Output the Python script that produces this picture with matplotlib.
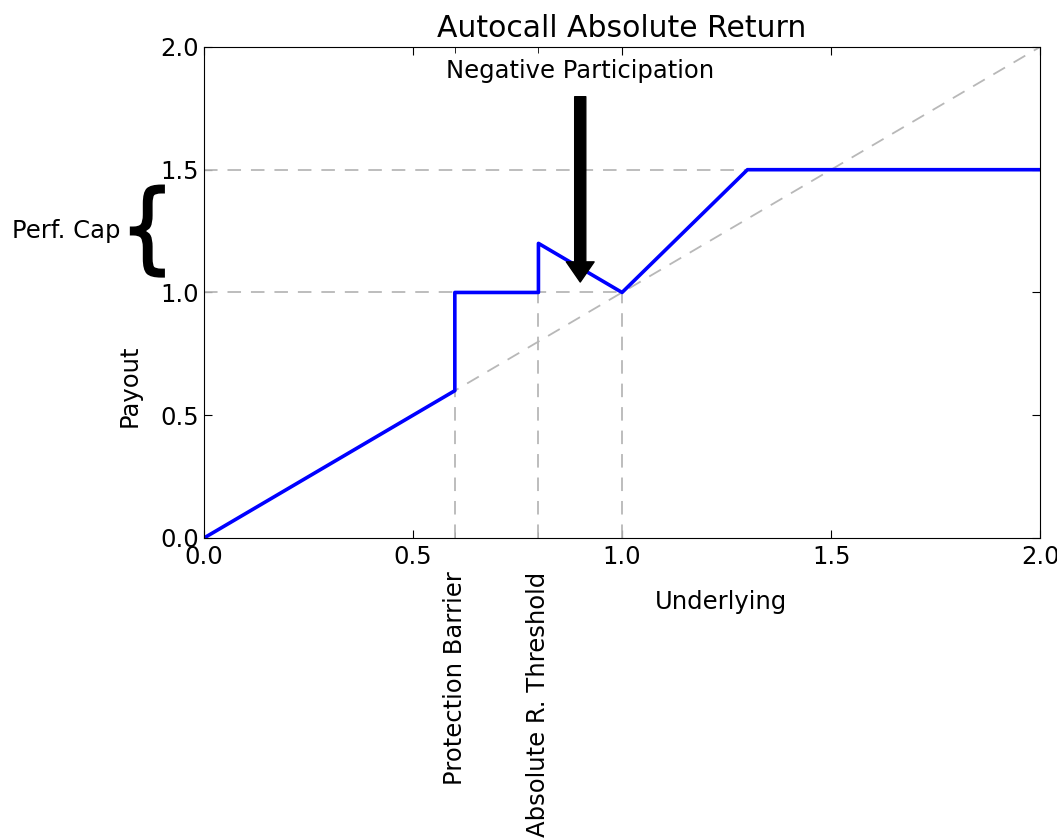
import numpy as np
import matplotlib.pyplot as plt
import matplotlib.transforms as mtransforms
from matplotlib.textpath import TextPath
from matplotlib.patches import PathPatch
from matplotlib.ticker import FixedLocator

# payout profile
under = [0.0, 0.6, 0.6, 0.8, 0.8, 1.0, 1.3, 2.0]
payout = [0.0, 0.6, 1.0, 1.0, 1.2, 1.0, 1.5, 1.5]

barrier = 0.6
threshold = 0.8
cap = 1.5
minor_pos = [barrier, threshold]
minor_labels = ['Protection Barrier', 'Absolute R. Threshold']
major_ticks = [0.0, 0.5, 1.0, 1.5, 2.0]

plt.rcParams['font.family'] = 'DejaVu Sans'
plt.rcParams['font.size'] = 17.5

fig = plt.figure(figsize=(10.57, 8.38), dpi=100)
ax = fig.add_axes([0.193, 0.358, 0.791, 0.586])

gray = dict(color='0.72', ls='--', lw=1.3, dashes=(7.5, 5.5))
ax.plot([0, 2], [0, 2], **gray)
ax.plot([0, 1.3], [cap, cap], **gray)
ax.plot([0, 1.0], [1.0, 1.0], **gray)
ax.plot([barrier, barrier], [0, barrier], **gray)
ax.plot([threshold, threshold], [0, 1.0], **gray)
ax.plot([1.0, 1.0], [0, 1.0], **gray)

ax.plot(under, payout, color='b', lw=2.6)

ax.set_xlim(0, 2)
ax.set_ylim(0, 2)
ax.set_xticks(major_ticks)
ax.set_yticks(major_ticks)
ax.set_xticklabels(['%.1f' % t for t in major_ticks])
ax.set_yticklabels(['%.1f' % t for t in major_ticks])
ax.xaxis.set_minor_locator(FixedLocator(minor_pos))
ax.set_xticklabels(minor_labels, minor=True, rotation=90, va='top')
ax.tick_params(which='both', direction='in', top=True, right=True)
ax.tick_params(which='major', length=6)
ax.tick_params(which='minor', length=4)
ax.tick_params(axis='x', which='major', pad=5)
ax.tick_params(axis='x', which='minor', pad=24)

ax.set_title('Autocall Absolute Return', fontsize=21.5, pad=7)
ax.set_xlabel('Underlying')
ax.set_ylabel('Payout')
ax.xaxis.set_label_coords(0.618, -0.105)
ax.yaxis.set_label_coords(-0.075, 0.31)

ax.annotate('Negative Participation', xy=(0.9, 1.0), xytext=(0.9, 1.9),
            ha='center', va='center',
            arrowprops=dict(facecolor='black', width=8, headwidth=20,
                            headlength=14.5, shrink=0.05))

# tall narrow curly brace next to the cap band
brace = TextPath((0, 0), '{', size=1)
ext = brace.get_extents()
bw, bh = 0.33, 0.91  # inches
tr = (mtransforms.Affine2D()
      .translate(-ext.x1, -(ext.y0 + ext.y1) / 2)
      .scale(bw / ext.width, bh / ext.height)
      + fig.dpi_scale_trans
      + mtransforms.ScaledTranslation(-0.048, 1.25, ax.get_yaxis_transform()))
ax.add_artist(PathPatch(brace, transform=tr, facecolor='black',
                        edgecolor='black', lw=1.5, clip_on=False))
ax.text(-0.1, 1.25, 'Perf. Cap', ha='right', va='center',
        transform=ax.get_yaxis_transform())

fig.savefig('out.png', dpi=100)
